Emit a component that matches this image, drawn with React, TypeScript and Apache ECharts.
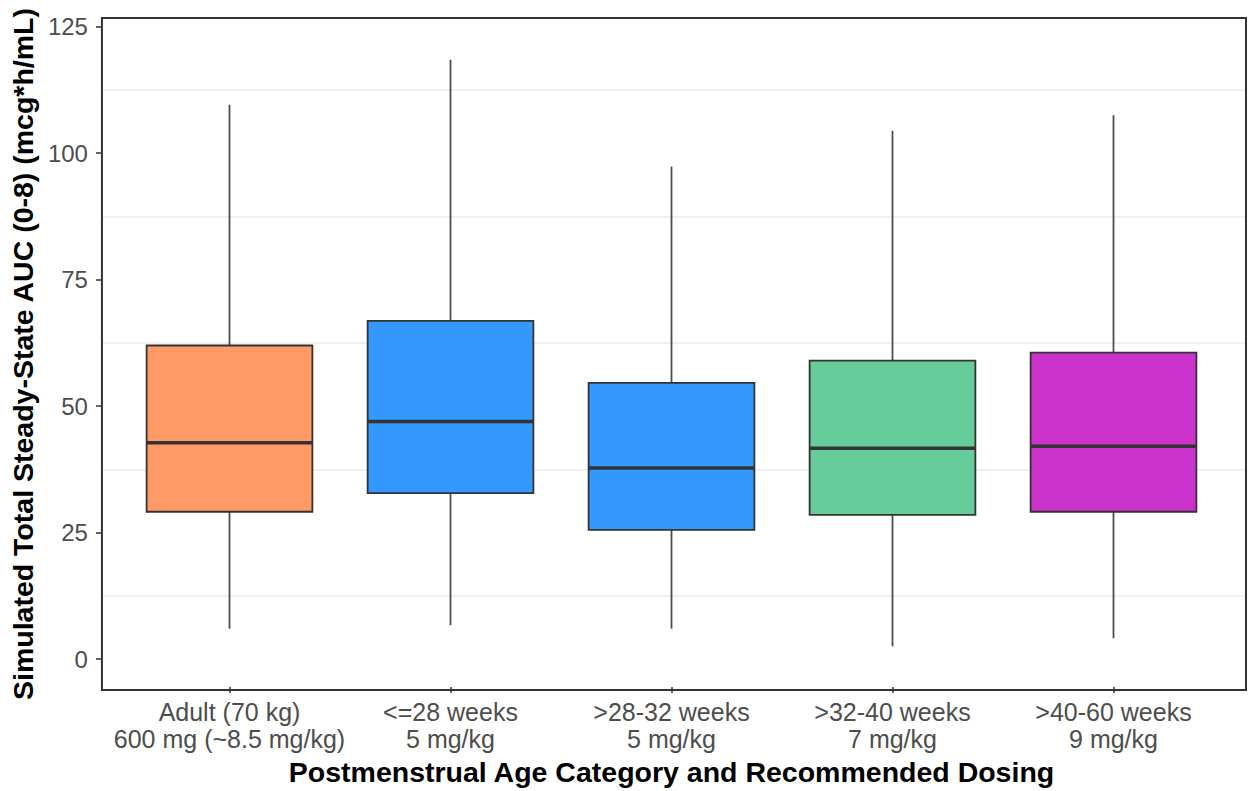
import React, { useEffect, useRef } from "react";
import * as echarts from "echarts";

const categories = [
  "Adult (70 kg)\n600 mg (~8.5 mg/kg)",
  "<=28 weeks\n5 mg/kg",
  ">28-32 weeks\n5 mg/kg",
  ">32-40 weeks\n7 mg/kg",
  ">40-60 weeks\n9 mg/kg",
];
const whiskerLow = [5.5, 6.2, 5.5, 2.0, 3.6];
const q1 = [28.7, 32.4, 25.1, 28.1, 28.7];
const median = [42.4, 46.6, 37.4, 41.3, 41.7];
const q3 = [61.7, 66.6, 54.3, 58.7, 60.3];
const whiskerHigh = [109.5, 118.4, 97.2, 104.3, 107.4];
const boxColors = ["#FF9966", "#3399FF", "#3399FF", "#66CC99", "#CC33CC"];
const yTicks = [0, 25, 50, 75, 100, 125];
const minorGrid = [12.5, 37.5, 62.5, 87.5, 112.5];
const yMin = -6.1;
const yMax = 126.7;

export default function App() {
  const ref = useRef<HTMLDivElement>(null);
  useEffect(() => {
    if (!ref.current) return;
    const chart = echarts.init(ref.current, null, { renderer: "svg" });
    const data = categories.map((_, i) => [i, whiskerLow[i], q1[i], median[i], q3[i], whiskerHigh[i]]);
    const font = "Liberation Sans, Arial, sans-serif";
    chart.setOption({
      animation: false,
      backgroundColor: "#ffffff",
      grid: [
        { left: 97, right: 8, top: 18, bottom: 101, show: true, borderColor: "#333333", borderWidth: 2, backgroundColor: "transparent", containLabel: false, z: 3 },
        { left: 119, right: 30, top: 18, bottom: 101, containLabel: false },
      ],
      xAxis: [
        { type: "value", gridIndex: 0, min: 0, max: 1, show: false },
        {
          type: "category",
          gridIndex: 1,
          data: categories,
          boundaryGap: true,
          position: "bottom",
          axisLine: { show: false, onZero: false },
          axisTick: { show: true, alignWithLabel: true, length: 6, lineStyle: { color: "#333333", width: 1.5 } },
          axisLabel: { color: "#4d4d4d", fontSize: 25, fontFamily: font, margin: 11, lineHeight: 27, interval: 0 },
          splitLine: { show: false },
          name: "Postmenstrual Age Category and Recommended Dosing",
          nameLocation: "middle",
          nameGap: 67,
          nameTextStyle: { color: "#000000", fontSize: 28.5, fontWeight: "bold", fontFamily: font },
        },
      ],
      yAxis: [
        {
          type: "value",
          gridIndex: 0,
          min: yMin,
          max: yMax,
          axisLine: { show: false },
          axisTick: { show: true, length: 6, lineStyle: { color: "#333333", width: 1.5 }, customValues: yTicks },
          axisLabel: { color: "#4d4d4d", fontSize: 24, fontFamily: font, margin: 14, customValues: yTicks },
          splitLine: { show: false },
          name: "Simulated Total Steady-State AUC (0-8) (mcg*h/mL)",
          nameLocation: "middle",
          nameRotate: 90,
          nameGap: 58,
          nameTextStyle: { color: "#000000", fontSize: 28.5, fontWeight: "bold", fontFamily: font },
        },
        { type: "value", gridIndex: 1, min: yMin, max: yMax, show: false },
      ],
      series: [
        {
          type: "line",
          xAxisIndex: 0,
          yAxisIndex: 0,
          data: [],
          silent: true,
          z: 0,
          markLine: {
            silent: true,
            z: 0,
            symbol: ["none", "none"],
            label: { show: false },
            lineStyle: { color: "#ebebeb", width: 1.5, type: "solid" },
            data: minorGrid.map((v) => ({ yAxis: v })),
          },
        },
        {
          type: "custom",
          xAxisIndex: 1,
          yAxisIndex: 1,
          z: 5,
          data,
          renderItem: (params: any, api: any) => {
            const i = api.value(0);
            const lo = api.coord([i, api.value(1)]);
            const b1 = api.coord([i, api.value(2)]);
            const md = api.coord([i, api.value(3)]);
            const b3 = api.coord([i, api.value(4)]);
            const hi = api.coord([i, api.value(5)]);
            const w = api.size([1, 0])[0] * 0.75;
            const x = lo[0];
            return {
              type: "group",
              children: [
                { type: "line", shape: { x1: x, y1: hi[1], x2: x, y2: b3[1] }, style: { stroke: "#4d4d4d", lineWidth: 1.8 } },
                { type: "line", shape: { x1: x, y1: b1[1], x2: x, y2: lo[1] }, style: { stroke: "#4d4d4d", lineWidth: 1.8 } },
                {
                  type: "rect",
                  shape: { x: x - w / 2, y: b3[1], width: w, height: b1[1] - b3[1] },
                  style: { fill: boxColors[params.dataIndex], stroke: "#333333", lineWidth: 1.8 },
                },
                { type: "line", shape: { x1: x - w / 2, y1: md[1], x2: x + w / 2, y2: md[1] }, style: { stroke: "#333333", lineWidth: 3.5 } },
              ],
            };
          },
        },
      ],
    });
    return () => chart.dispose();
  }, []);
  return <div ref={ref} style={{ position: "fixed", left: 0, top: 0, width: 1254, height: 791 }} />;
}
